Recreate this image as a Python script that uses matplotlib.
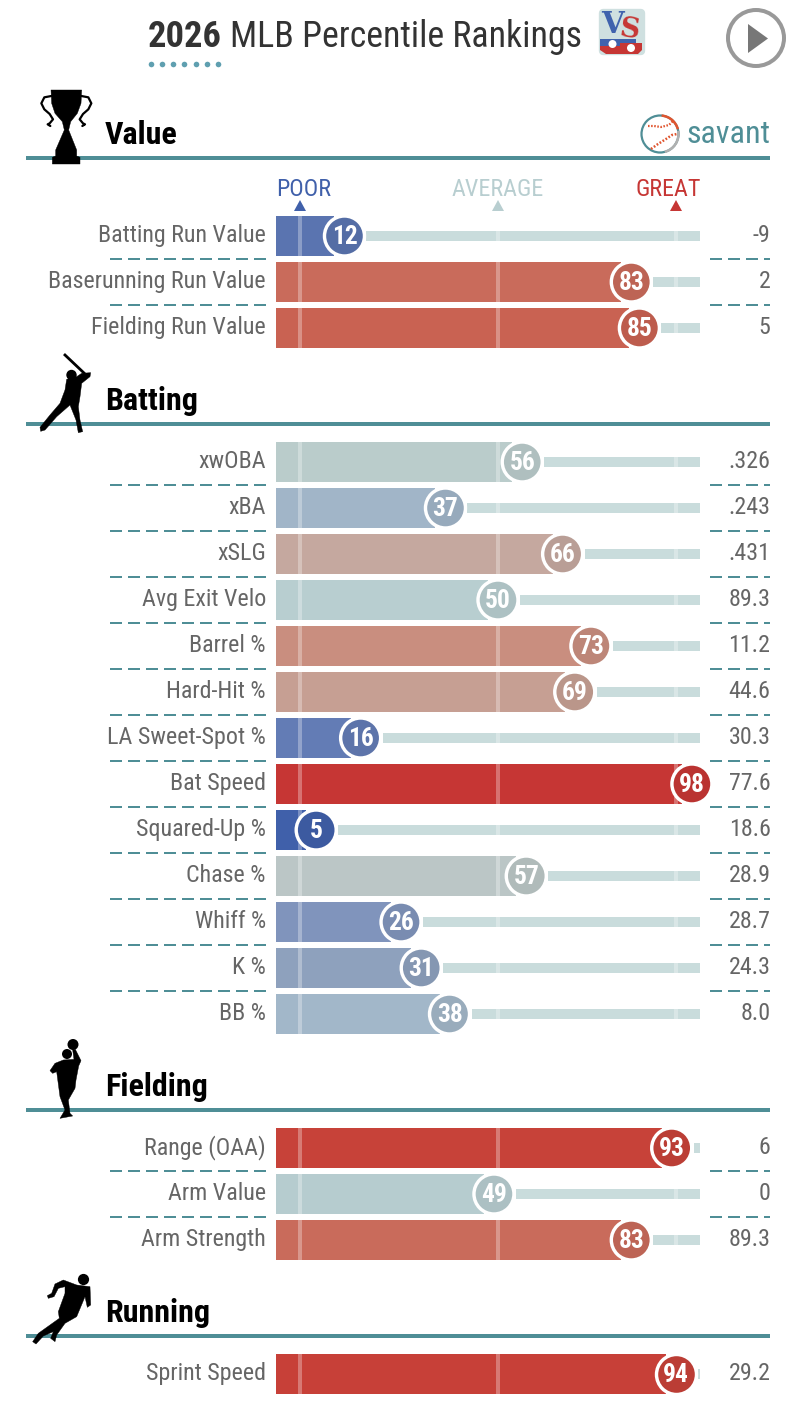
import matplotlib
matplotlib.use("Agg")
import matplotlib.pyplot as plt
import numpy as np
from matplotlib import font_manager as fm
from matplotlib.colors import LinearSegmentedColormap
from matplotlib.patches import Circle, Polygon, FancyBboxPatch, Arc, Rectangle
from matplotlib.patheffects import AbstractPathEffect
from matplotlib.transforms import Affine2D

# ---------- data ----------
value_labels = ["Batting Run Value", "Baserunning Run Value", "Fielding Run Value"]
value_pct = [12, 83, 85]
value_raw = ["-9", "2", "5"]

batting_labels = ["xwOBA", "xBA", "xSLG", "Avg Exit Velo", "Barrel %", "Hard-Hit %", "LA Sweet-Spot %",
                  "Bat Speed", "Squared-Up %", "Chase %", "Whiff %", "K %", "BB %"]
batting_pct = [56, 37, 66, 50, 73, 69, 16, 98, 5, 57, 26, 31, 38]
batting_raw = [".326", ".243", ".431", "89.3", "11.2", "44.6", "30.3", "77.6", "18.6", "28.9", "28.7", "24.3", "8.0"]

fielding_labels = ["Range (OAA)", "Arm Value", "Arm Strength"]
fielding_pct = [93, 49, 83]
fielding_raw = ["6", "0", "89.3"]

running_labels = ["Sprint Speed"]
running_pct = [94]
running_raw = ["29.2"]

section_names = ["Value", "Batting", "Fielding", "Running"]
grid_marks = [1, 50, 94]

# ---------- style ----------
W, H = 798, 1416
TEAL = "#4f8e96"
GREY = "#666666"
avail = {f.name for f in fm.fontManager.ttflist}
if "Roboto Condensed" in avail:
    FONT, SQ = "Roboto Condensed", 1.0
else:
    FONT, SQ = "Roboto", 0.86

anchors = [(5, "#4060aa"), (12, "#5a74b0"), (16, "#637cb5"), (26, "#8195bc"), (31, "#8ea1bd"),
           (37, "#a1b5c8"), (50, "#b8ced0"), (56, "#bacccb"), (57, "#bbc7c7"), (66, "#c5a89f"),
           (69, "#c6a094"), (73, "#c98f80"), (83, "#c96b5b"), (85, "#c96353"), (93, "#c74339"),
           (98, "#c63634")]
cmap = LinearSegmentedColormap.from_list(
    "savant", [((p - 5) / 93, c) for p, c in anchors])


def pct_color(p):
    return cmap((p - 5) / 93)


def darker(c, f=0.94):
    return tuple(v * f for v in c[:3])


class Squeeze(AbstractPathEffect):
    """Narrow real text horizontally around its anchor."""
    def __init__(self, sx, x0):
        super().__init__()
        self.sx, self.x0 = sx, x0

    def draw_path(self, renderer, gc, tpath, affine, rgbFace=None):
        t = affine + Affine2D().translate(-self.x0, 0).scale(self.sx, 1).translate(self.x0, 0)
        renderer.draw_path(gc, tpath, t, rgbFace)


fig = plt.figure(figsize=(W / 100, H / 100), dpi=100, facecolor="white")
bg = fig.add_axes([0, 0, 1, 1])
bg.set_xlim(0, W)
bg.set_ylim(H, 0)
bg.axis("off")


def T(x, y, s, px, color=GREY, ha="left", weight="normal", sq=None, ax=None, va="baseline", zorder=10):
    a = ax if ax is not None else bg
    t = a.text(x, y, s, fontsize=px * 0.72, color=color, ha=ha, va=va, family=FONT,
               fontweight=weight, zorder=zorder, clip_on=False)
    k = SQ if sq is None else sq
    if k != 1.0:
        xd = a.transData.transform((x, y))[0]
        t.set_path_effects([Squeeze(k, xd)])
    return t


def poly(points, origin=(0, 0), scale=1 / 3, color="black", z=5):
    pts = np.array(points, float) * scale + np.array(origin)
    bg.add_patch(Polygon(pts, closed=True, fc=color, ec=color, lw=0.3, zorder=z))


# ---------- header ----------
T(148, 47, "2026", 36.5, "#333333", weight="bold")
T(230, 47, "MLB Percentile Rankings", 35.9, "#333333")
bg.scatter([151, 162, 173.3, 184.3, 195.7, 206.7, 217.7], [64] * 7, s=(5.6 * 0.72) ** 2, color="#5f9fb0", lw=0)

# VS logo
bg.add_patch(FancyBboxPatch((603, 13), 38, 38, boxstyle="round,pad=0,rounding_size=0", fc="#cfe0e0", ec="#cfe0e0", lw=6, joinstyle="round", zorder=2))
bg.add_patch(Rectangle((600, 38.5), 36, 8, fc="#3f62ad", lw=0, zorder=3))
bg.add_patch(Polygon([(600, 46), (642, 46), (642, 50), (638, 54), (606, 54), (600, 50)], fc="#c63634", lw=0, zorder=3))
bg.add_patch(Rectangle((620, 43), 22, 6, fc="#c63634", lw=0, zorder=3))
bg.text(612.5, 24.5, "V", fontsize=21, family="DejaVu Serif", weight="bold", color="#3f62ad", ha="center", va="center", zorder=4)
bg.text(629, 30, "S", fontsize=20, family="DejaVu Serif", weight="bold", color="#c63634", ha="center", va="center", zorder=5, rotation=-8)
bg.add_patch(Circle((612.5, 44), 4, fc="white", lw=0, zorder=6))
bg.add_patch(Circle((631, 48), 4, fc="white", lw=0, zorder=6))

# play button
bg.add_patch(Circle((756, 38), 28, fc="white", ec="#999999", lw=4 * 0.72, zorder=3))
bg.add_patch(Polygon([(748, 24), (768, 38.5), (748, 53)], fc="#777777", lw=0, zorder=4))

# savant logo
cx0, cy0, r0 = 660, 134, 18.5
bg.add_patch(Circle((cx0, cy0), r0, fc="white", ec=TEAL, lw=1.6, zorder=3))
bg.add_patch(Arc((cx0, cy0), 2 * r0, 2 * r0, theta1=-85, theta2=-15, ec="#e0552f", lw=1.8, zorder=4))
bg.add_patch(Arc((cx0, cy0), 2 * r0, 2 * r0, theta1=-10, theta2=75, ec="#b0b0b0", lw=1.8, zorder=4))
bg.plot([648, 654, 661, 669, 673], [126, 126, 127, 125, 121], color="#e0552f", lw=1.6, ls=(0, (0.7, 0.7)), zorder=4)
bg.plot([651, 658, 666, 672, 677], [149, 144, 139, 135, 134], color="#e0552f", lw=1.8, ls=(0, (0.7, 0.7)), zorder=4)
T(770.5, 143, "savant", 32, TEAL, ha="right")

# legend
T(304, 196, "POOR", 24, "#4060aa", ha="center")
T(498, 196, "AVERAGE", 24, "#b8ced0", ha="center")
T(668, 196, "GREAT", 24, "#c63634", ha="center")
for x, c in zip([300, 498, 676], ["#4060aa", "#b8ced0", "#c63634"]):
    bg.add_patch(Polygon([(x - 6, 211), (x + 6, 211), (x, 200)], fc=c, lw=0, zorder=3))

# ---------- icons ----------
# trophy
poly([(93, 30), (185, 30), (183, 70), (172, 100), (152, 125), (146, 150), (158, 180), (170, 210), (170, 228), (180, 232), (180, 252), (97, 252), (97, 232), (107, 228), (107, 210), (120, 180), (133, 150), (127, 125), (105, 100), (95, 70)],
     origin=(20, 80))
for sgn in (1, -1):
    xs = np.array([45, 66, 75, 66, 50, 40, 50, 56, 48]) * sgn + 139
    ys = np.array([48, 52, 70, 88, 102, 118, 130, 133, 138])
    bg.plot(20 + xs / 3, 80 + ys / 3, color="black", lw=1.6, zorder=5, solid_capstyle="round")
# batter
bg.plot([65, 84], [355, 373], color="black", lw=2.0, zorder=5)
bg.add_patch(Circle((71.5, 375), 5.2, fc="black", lw=0, zorder=5))
poly([(200, 118), (230, 110), (245, 100), (272, 98), (270, 110), (245, 130), (240, 170), (235, 200), (240, 240), (248, 275), (235, 278), (228, 240), (210, 195), (170, 230), (135, 270), (122, 274), (120, 262), (150, 225), (180, 190), (195, 150)],
     origin=(0, 340))
# fielder
bg.add_patch(Circle((73, 1044.5), 5.5, fc="black", lw=0, zorder=5))
bg.add_patch(Circle((67, 1054), 5, fc="black", lw=0, zorder=5))
poly([(150, 122), (165, 100), (190, 90), (222, 88), (218, 60), (226, 58), (243, 92), (236, 108), (228, 150), (225, 175), (205, 210), (210, 250), (218, 258), (180, 265), (195, 240), (180, 200), (170, 125), (158, 130)],
     origin=(0, 1030))
# runner
bg.add_patch(Circle((83.5, 1279.5), 5.6, fc="black", lw=0, zorder=5))
poly([(230, 765), (270, 770), (272, 825), (262, 832), (255, 800), (230, 860), (195, 880), (170, 915), (165, 935), (152, 925), (160, 905), (130, 918), (108, 942), (98, 935), (115, 910), (150, 885), (178, 865), (175, 845), (195, 790), (195, 770), (175, 775), (162, 800), (145, 805), (142, 797), (155, 790), (165, 762), (190, 750)],
     origin=(0, 1030))

# ---------- sections ----------
sections = [
    (section_names[0], value_labels, value_pct, value_raw, 216, 158),
    (section_names[1], batting_labels, batting_pct, batting_raw, 442, 424),
    (section_names[2], fielding_labels, fielding_pct, fielding_raw, 1128, 1110),
    (section_names[3], running_labels, running_pct, running_raw, 1354, 1336),
]
PITCH = 46
for name, labels, pct, raw, top, rule in sections:
    bg.plot([26, 770], [rule, rule], color=TEAL, lw=4 * 0.72, solid_capstyle="butt", zorder=4)
    T(105, rule - 14, name, 32, "black", weight="bold")
    n = len(labels)
    x0, x1 = 276, 700
    y0, y1 = top - 3, top - 3 + n * PITCH
    ax = fig.add_axes([x0 / W, 1 - y1 / H, (x1 - x0) / W, (y1 - y0) / H], facecolor="none")
    ax.set_xlim(-20 / 4.04, 100)
    ax.set_ylim(n - 0.5, -0.5)
    ax.axis("off")
    rows = np.arange(n)
    left = ax.get_xlim()[0]
    p = np.array(pct, float)
    cols = [pct_color(v) for v in pct]
    ax.barh(rows, p - 10 / 4.04 - left, left=left, height=40 / PITCH, color=cols, lw=0, zorder=2)
    start = p + 22 / 4.04
    w = np.clip(100 - start, 0, None)
    ax.barh(rows, w, left=start, height=10 / PITCH, color="#c9dcdc", lw=0, zorder=2)
    for g in grid_marks:
        ax.axvline(g, color="white", alpha=0.3, lw=4 * 0.72, zorder=3)
    ax.scatter(p, rows, s=(40 * 0.72) ** 2, c=[darker(c) for c in cols], edgecolors="white",
               linewidths=3.4 * 0.72, zorder=4, clip_on=False)
    for i, v in enumerate(pct):
        T(v, i + 8.5 / PITCH, str(v), 25.5, "white", ha="center", weight="bold", ax=ax, zorder=5)
    for i in range(n):
        yc = top + 20 + i * PITCH
        T(266, yc + 6, labels[i], 24, GREY, ha="right")
        T(770.5, yc + 6, raw[i], 24, GREY, ha="right")
        if i < n - 1:
            yd = top + 43 + i * PITCH
            for a, b in [(110, 266), (710, 770)]:
                starts = np.arange(a, b, 18)
                for s in starts:
                    bg.plot([s, min(s + 12, b)], [yd, yd], color=TEAL, lw=2 * 0.72, solid_capstyle="butt", zorder=3)

fig.savefig("out.png", dpi=100, facecolor="white")
